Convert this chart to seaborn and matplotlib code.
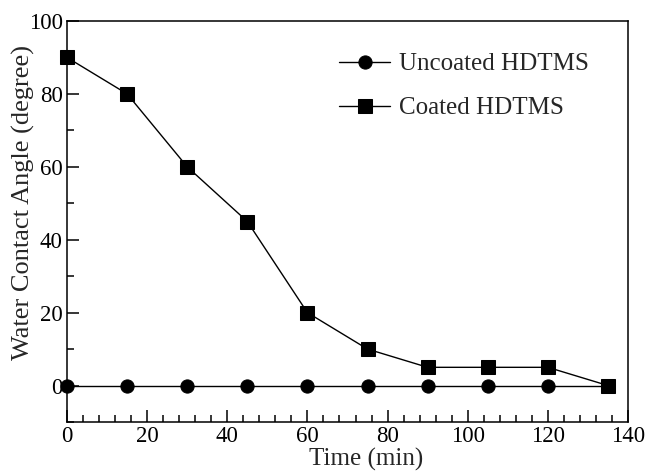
import matplotlib
matplotlib.use("Agg")
import matplotlib.pyplot as plt
from matplotlib.ticker import MultipleLocator
import seaborn as sns
import pandas as pd

# data
time_min = [0, 15, 30, 45, 60, 75, 90, 105, 120, 135]
uncoated = [0, 0, 0, 0, 0, 0, 0, 0, 0, 0]
coated = [90, 80, 60, 45, 20, 10, 5, 5, 5, 0]

df = pd.DataFrame({
    "Time": time_min * 2,
    "Angle": uncoated + coated,
    "Series": ["Uncoated HDTMS"] * len(time_min) + ["Coated HDTMS"] * len(time_min),
})

sns.set_theme(style="ticks")
plt.rcParams["font.family"] = ["Liberation Serif", "DejaVu Serif"]

W, H = 649, 471
fig = plt.figure(figsize=(6.49, 4.71), dpi=100)
ax = fig.add_axes([67 / W, 1 - 422 / H, 561 / W, 401 / H])

sns.lineplot(data=df, x="Time", y="Angle", hue="Series", style="Series",
             markers={"Uncoated HDTMS": "o", "Coated HDTMS": "s"},
             dashes=False, palette=["black", "black"], markersize=9.5,
             markeredgecolor="black", linewidth=1.0, ax=ax, clip_on=False)

ax.set_xlim(0, 140)
ax.set_ylim(-10, 100)
ax.xaxis.set_major_locator(MultipleLocator(20))
ax.xaxis.set_minor_locator(MultipleLocator(4))
ax.yaxis.set_minor_locator(MultipleLocator(10))
ax.set_yticks([0, 20, 40, 60, 80, 100])
ax.tick_params(which="both", direction="in", top=False, right=False,
               labelsize=16.5, colors="black", width=1.1, pad=3)
ax.tick_params(which="major", length=8.5)
ax.tick_params(which="minor", length=5)
for sp in ax.spines.values():
    sp.set_linewidth(1.1)
    sp.set_color("black")

ax.set_xlabel("Time (min)", fontsize=18)
ax.xaxis.set_label_coords((366 - 67) / 561, (422 - 448) / 401)
ax.set_ylabel("Water Contact Angle (degree)", fontsize=19)
ax.yaxis.set_label_coords((35 - 67) / 561, (422 - 202) / 401)

leg = ax.legend(loc="upper left", bbox_to_anchor=(339 / W, 1 - 53 / H),
                bbox_transform=fig.transFigure, frameon=False,
                fontsize=18, handlelength=2.05, labelspacing=0.85,
                handletextpad=0.35, borderpad=0, borderaxespad=0)

fig.savefig("out.png", dpi=100)
